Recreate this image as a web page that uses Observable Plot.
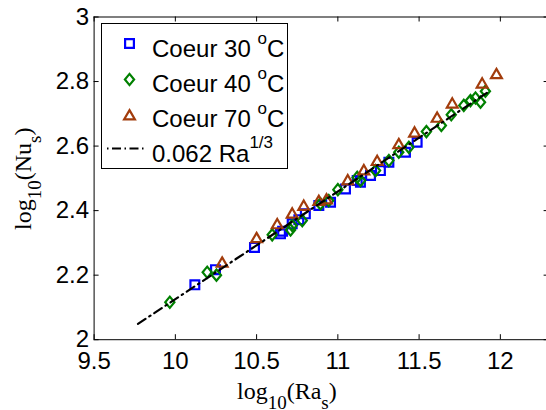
<!DOCTYPE html>
<html><head><meta charset="utf-8">
<script src="https://cdn.jsdelivr.net/npm/d3@7"></script>
<script src="https://cdn.jsdelivr.net/npm/@observablehq/plot@0.6"></script>
<style>
html,body{margin:0;padding:0;background:#fff;overflow:hidden;width:546px;height:410px}
</style>
</head><body><div id="chart"></div>
<script>
// ---- data ----
const xTicks = [9.5, 10, 10.5, 11, 11.5, 12];
const xTickLabels = ["9.5", "10", "10.5", "11", "11.5", "12"];
const yTicks = [2, 2.2, 2.4, 2.6, 2.8, 3];
const yTickLabels = ["2", "2.2", "2.4", "2.6", "2.8", "3"];

const seriesNames = ["Coeur 30 ", "Coeur 40 ", "Coeur 70 "];
const fitName = "0.062 Ra";
const fitExponent = "1/3";

const coeur30X = [10.12, 10.247, 10.487, 10.647, 10.66, 10.719, 10.76, 10.80, 10.883, 10.955, 11.047, 11.119, 11.139, 11.201, 11.262, 11.314, 11.416, 11.488];
const coeur30Y = [2.170, 2.217, 2.286, 2.328, 2.336, 2.359, 2.372, 2.390, 2.416, 2.426, 2.467, 2.493, 2.488, 2.509, 2.524, 2.550, 2.581, 2.612];

const coeur40X = [9.966, 10.196, 10.253, 10.596, 10.709, 10.719, 10.781, 10.893, 10.944, 11.0, 11.119, 11.14, 11.232, 11.314, 11.375, 11.437, 11.545, 11.637, 11.698, 11.775, 11.816, 11.847, 11.878, 11.908];
const coeur40Y = [2.116, 2.209, 2.200, 2.325, 2.340, 2.354, 2.369, 2.421, 2.431, 2.465, 2.503, 2.493, 2.524, 2.555, 2.581, 2.596, 2.645, 2.664, 2.697, 2.726, 2.741, 2.749, 2.736, 2.770];

const coeur70X = [10.288, 10.50, 10.627, 10.719, 10.79, 10.883, 10.93, 11.061, 11.16, 11.242, 11.375, 11.472, 11.611, 11.704, 11.888, 11.976];
const coeur70Y = [2.240, 2.316, 2.359, 2.392, 2.416, 2.431, 2.436, 2.495, 2.526, 2.555, 2.607, 2.643, 2.689, 2.733, 2.795, 2.824];

const fitX = [9.77, 11.92];
const fitY = [2.049, 2.766];

// ---- styles ----
const colors = ["#0000ff", "#008000", "#a23c0c"];
const dash = "9,4.5,1.5,4.5";

const squareSym = {draw(c) { c.moveTo(-4.4, -4.4); c.lineTo(4.4, -4.4); c.lineTo(4.4, 4.4); c.lineTo(-4.4, 4.4); c.closePath(); }};
const diamondSym = {draw(c) { c.moveTo(0, -5.6); c.lineTo(4.6, 0); c.lineTo(0, 5.6); c.lineTo(-4.6, 0); c.closePath(); }};
const triangleSym = {draw(c) { c.moveTo(0, -4.9); c.lineTo(5.4, 4.4); c.lineTo(-5.4, 4.4); c.closePath(); }};
const symbols = [squareSym, diamondSym, triangleSym];

const toRows = (xs, ys) => xs.map((x, i) => ({x, y: ys[i]}));
const s30 = toRows(coeur30X, coeur30Y);
const s40 = toRows(coeur40X, coeur40Y);
const s70 = toRows(coeur70X, coeur70Y);
const fit = toRows(fitX, fitY);

const fmtX = d => xTickLabels[xTicks.indexOf(d)];
const fmtY = d => yTickLabels[yTicks.indexOf(d)];

const W = 546, H = 410, mL = 93.6, mR = -2.6, mT = 16.5, mB = 70.8;
const innerW = W - mL - mR, innerH = H - mT - mB;
const tick = 5;
const mw = 2.2;

const plot = Plot.plot({
  width: W,
  height: H,
  marginLeft: mL,
  marginRight: mR,
  marginTop: mT,
  marginBottom: mB,
  x: {domain: [9.5, 12.3]},
  y: {domain: [2, 3]},
  style: {fontFamily: "'Liberation Sans', Arial, sans-serif", fontSize: "24px", background: "white", color: "black"},
  marks: [
    Plot.frame({stroke: "black", strokeWidth: 1}),
    Plot.axisX(xTicks, {anchor: "bottom", tickSize: 0, tickPadding: 12, tickFormat: fmtX, label: null}),
    Plot.axisY(yTicks, {anchor: "left", tickSize: 0, tickPadding: 5, tickFormat: fmtY, label: null}),
    // inward tick marks on all four sides
    Plot.tickX(xTicks, {x: d => d, stroke: "black", insetTop: innerH - tick}),
    Plot.tickX(xTicks, {x: d => d, stroke: "black", insetBottom: innerH - tick}),
    Plot.tickY(yTicks, {y: d => d, stroke: "black", insetRight: innerW - tick}),
    Plot.tickY(yTicks, {y: d => d, stroke: "black", insetLeft: innerW - tick}),
    Plot.dot(s30, {x: "x", y: "y", symbol: squareSym, r: 4, stroke: colors[0], strokeWidth: mw, fill: "none"}),
    Plot.dot(s40, {x: "x", y: "y", symbol: diamondSym, r: 4, stroke: colors[1], strokeWidth: mw, fill: "none"}),
    Plot.dot(s70, {x: "x", y: "y", symbol: triangleSym, r: 4, stroke: colors[2], strokeWidth: mw, fill: "none"}),
    Plot.line(fit, {x: "x", y: "y", stroke: "black", strokeWidth: 2.2, strokeDasharray: dash})
  ]
});
document.getElementById("chart").appendChild(plot);

const svg = d3.select(plot);

// axis labels (serif, with subscripts)
const serif = "'Liberation Serif', 'Times New Roman', serif";
function labelParts(sel, main, sub1, mid, sub2) {
  sel.append("tspan").text(main);
  sel.append("tspan").attr("dy", 10).attr("font-size", 19).text(sub1);
  sel.append("tspan").attr("dy", -10).attr("font-size", 24).text(mid);
  sel.append("tspan").attr("dy", 10).attr("font-size", 19).text(sub2);
  sel.append("tspan").attr("dy", -10).attr("font-size", 24).text(")");
}
const xl = svg.append("text").attr("x", 237).attr("y", 398.5).attr("text-anchor", "start")
  .attr("font-family", serif).attr("font-size", 24).attr("fill", "black");
labelParts(xl, "log", "10", "(Ra", "s");
const yl = svg.append("text").attr("transform", "translate(31,230) rotate(-90)").attr("text-anchor", "start")
  .attr("font-family", serif).attr("font-size", 24).attr("fill", "black");
labelParts(yl, "log", "10", "(Nu", "s");

// legend
const lg = svg.append("g").attr("font-family", "'Liberation Sans', Arial, sans-serif").attr("font-size", 24).attr("text-anchor", "start");
lg.append("rect").attr("x", 101.5).attr("y", 23.5).attr("width", 186).attr("height", 145)
  .attr("fill", "white").attr("stroke", "black").attr("stroke-width", 1);
const rowBase = [57, 92, 127, 162];
const rowMid = [43.5, 79.5, 115];
symbols.forEach((sym, i) => {
  const p = d3.path(); sym.draw(p);
  lg.append("path").attr("d", p.toString()).attr("transform", `translate(129.5,${rowMid[i]})`)
    .attr("fill", "none").attr("stroke", colors[i]).attr("stroke-width", mw);
  const t = lg.append("text").attr("x", 152).attr("y", rowBase[i]).attr("fill", "black");
  t.append("tspan").text(seriesNames[i]);
  t.append("tspan").attr("dy", -13).attr("font-size", 17).text("o");
  t.append("tspan").attr("dy", 13).attr("font-size", 24).text("C");
});
lg.append("line").attr("x1", 107).attr("x2", 144).attr("y1", 148.5).attr("y2", 148.5)
  .attr("stroke", "black").attr("stroke-width", 2).attr("stroke-dasharray", "1.5,3.5,9,3.5");
const ft = lg.append("text").attr("x", 152).attr("y", rowBase[3]).attr("fill", "black");
ft.append("tspan").text(fitName);
ft.append("tspan").attr("dy", -14).attr("font-size", 17).text(fitExponent);
</script>
</body></html>
